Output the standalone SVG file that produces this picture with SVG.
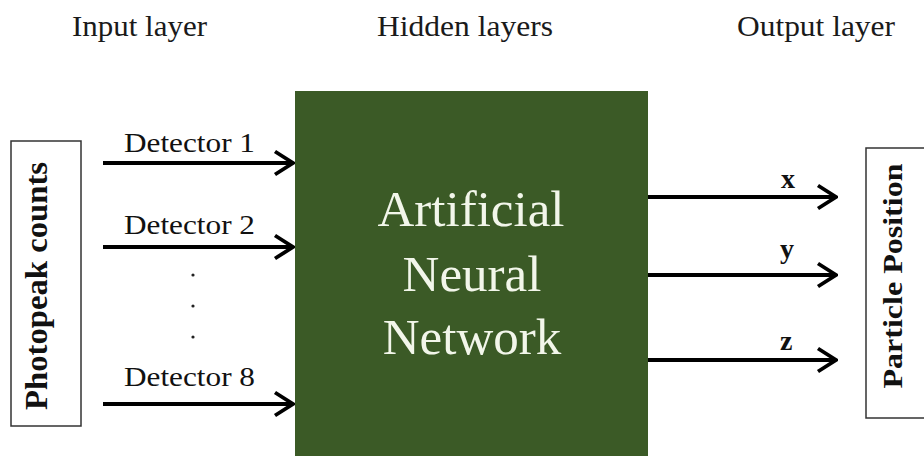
<svg xmlns="http://www.w3.org/2000/svg" width="924" height="456" viewBox="0 0 924 456">
  <defs>
    <style>
      .hdr { font-family: "Liberation Serif", "Times New Roman", serif; font-size: 30px; fill: #1a1a1a; }
      .det { font-family: "Liberation Serif", "Times New Roman", serif; font-size: 28px; fill: #111; }
      .ann { font-family: "Liberation Serif", "Times New Roman", serif; font-size: 51px; fill: #f2f6ea; text-anchor: middle; }
      .side { font-family: "Liberation Serif", "Times New Roman", serif; font-weight: bold; fill: #111; text-anchor: middle; }
      .out { font-family: "Liberation Serif", "Times New Roman", serif; font-weight: bold; font-size: 28px; fill: #111; }
      .box { fill: #ffffff; stroke: #333; stroke-width: 1.5; }
      .wire { stroke: #000; stroke-width: 4; fill: none; }
    </style>
    <marker id="chev" markerUnits="userSpaceOnUse" markerWidth="24" markerHeight="30" viewBox="-22 -15 24 30" refX="0" refY="0" orient="auto">
      <path d="M -18 -11.5 L 0 0 L -18 11.5" fill="none" stroke="#000" stroke-width="3.8" stroke-linejoin="miter"/>
    </marker>
  </defs>

  <rect width="924" height="456" fill="#ffffff"/>

  <!-- layer headings -->
  <g id="headings">
    <text class="hdr" x="72" y="36" textLength="135" lengthAdjust="spacingAndGlyphs">Input layer</text>
    <text class="hdr" x="377" y="36" textLength="176" lengthAdjust="spacingAndGlyphs">Hidden layers</text>
    <text class="hdr" x="737" y="36" textLength="158" lengthAdjust="spacingAndGlyphs">Output layer</text>
  </g>

  <!-- input node -->
  <g id="photopeak-counts">
    <rect class="box" x="11" y="141" width="70" height="285"/>
    <text class="side" font-size="31" transform="translate(47,286) rotate(-90)" textLength="248" lengthAdjust="spacingAndGlyphs">Photopeak counts</text>
  </g>

  <!-- hidden layers node -->
  <g id="ann">
    <rect x="295" y="91" width="353" height="370" fill="#3b5a26"/>
    <text class="ann" x="471" y="226">Artificial</text>
    <text class="ann" x="472" y="291">Neural</text>
    <text class="ann" x="472" y="354">Network</text>
  </g>

  <!-- output node -->
  <g id="particle-position">
    <rect class="box" x="866" y="148" width="62" height="270"/>
    <text class="side" font-size="28" transform="translate(902,276) rotate(-90)" textLength="225" lengthAdjust="spacingAndGlyphs">Particle Position</text>
  </g>

  <!-- connectors -->
  <g id="connectors">
    <line class="wire" x1="103" y1="163" x2="293" y2="163" marker-end="url(#chev)"/>
    <line class="wire" x1="103" y1="247" x2="293" y2="247" marker-end="url(#chev)"/>
    <line class="wire" x1="103" y1="404" x2="293" y2="404" marker-end="url(#chev)"/>
    <line class="wire" x1="648" y1="197" x2="836" y2="197" marker-end="url(#chev)"/>
    <line class="wire" x1="648" y1="275" x2="836" y2="275" marker-end="url(#chev)"/>
    <line class="wire" x1="648" y1="360" x2="836" y2="360" marker-end="url(#chev)"/>
  </g>

  <!-- connector labels -->
  <g id="input-labels">
    <text class="det" x="124" y="152" textLength="131" lengthAdjust="spacingAndGlyphs">Detector 1</text>
    <text class="det" x="124" y="234" textLength="131" lengthAdjust="spacingAndGlyphs">Detector 2</text>
    <text class="det" x="124" y="386" textLength="131" lengthAdjust="spacingAndGlyphs">Detector 8</text>
    <circle cx="193" cy="275" r="1.6" fill="#222"/>
    <circle cx="193" cy="306" r="1.6" fill="#222"/>
    <circle cx="193" cy="337" r="1.6" fill="#222"/>
  </g>
  <g id="output-labels">
    <text class="out" x="781" y="188">x</text>
    <text class="out" x="780" y="258">y</text>
    <text class="out" x="780" y="350">z</text>
  </g>
</svg>
